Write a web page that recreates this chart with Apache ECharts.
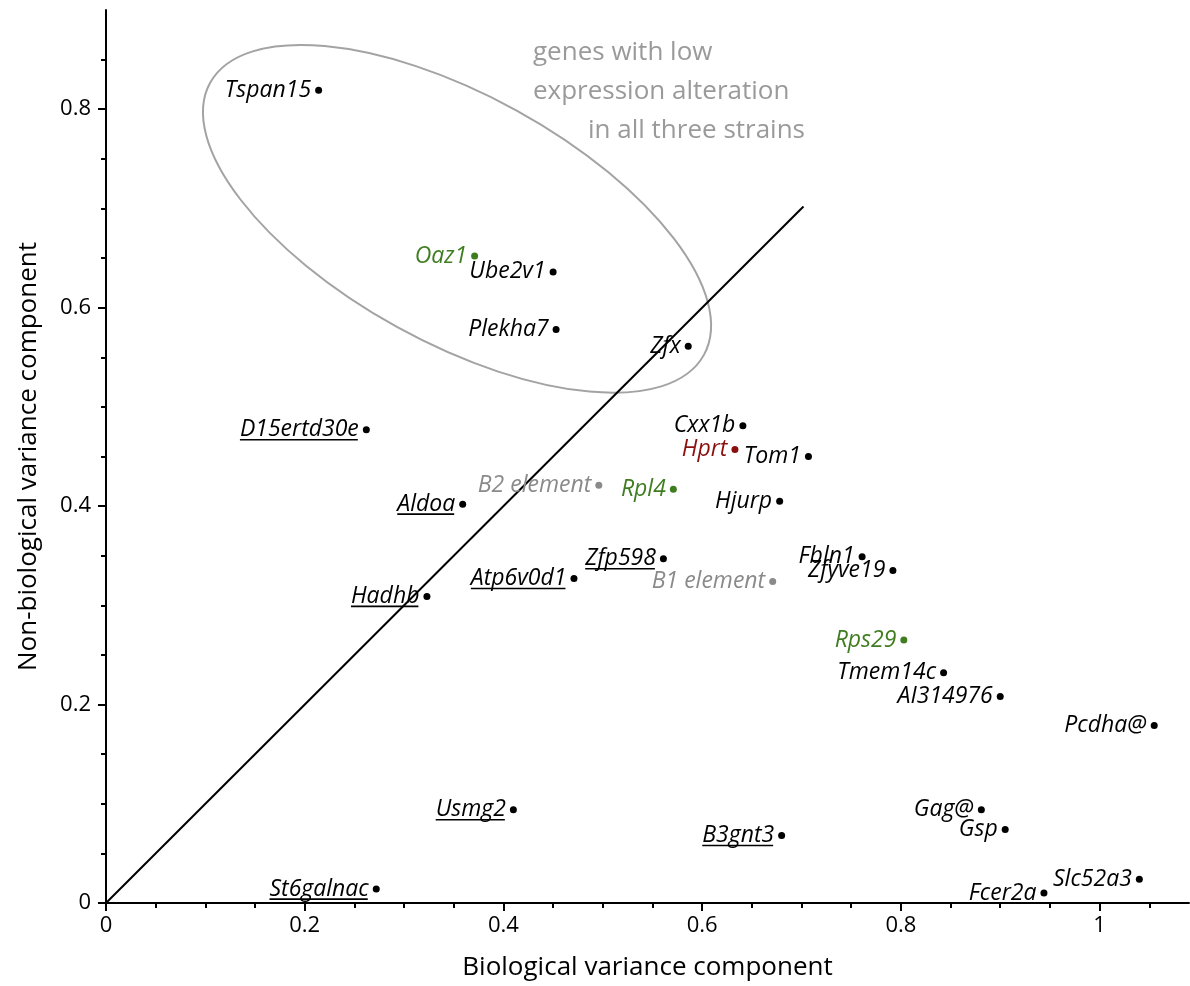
<!DOCTYPE html>
<html>
<head>
<meta charset="utf-8">
<script src="https://cdn.jsdelivr.net/npm/echarts@6/dist/echarts.min.js"></script>
<style>
  html, body { margin: 0; padding: 0; background: #fff; }
  #chart { width: 1190px; height: 986px; }
</style>
</head>
<body>
<div id="chart"></div>
<script>
// ---- data ----
const genes = ['Tspan15','Oaz1','Ube2v1','Plekha7','Zfx','D15ertd30e','Cxx1b','Hprt','Tom1','B2 element',
  'Rpl4','Aldoa','Hjurp','Zfp598','Fbln1','Atp6v0d1','B1 element','Zfyve19','Hadhb','Rps29',
  'Tmem14c','AI314976','Pcdha@','Usmg2','Gag@','Gsp','B3gnt3','Slc52a3','Fcer2a','St6galnac'];
const biological = [0.214,0.371,0.450,0.453,0.586,0.262,0.641,0.633,0.707,0.496,
  0.571,0.359,0.678,0.561,0.761,0.471,0.671,0.792,0.323,0.803,
  0.843,0.900,1.055,0.410,0.881,0.905,0.680,1.040,0.944,0.272];
const nonBiological = [0.819,0.652,0.636,0.578,0.561,0.477,0.481,0.457,0.450,0.421,
  0.417,0.402,0.405,0.347,0.349,0.327,0.324,0.335,0.309,0.265,
  0.232,0.208,0.179,0.094,0.094,0.074,0.068,0.024,0.010,0.014];
// k = black, g = green (reference genes), r = red (Hprt), s = grey (repeat elements)
const colorGroup = ['k','g','k','k','k','k','k','r','k','s',
  'g','k','k','k','k','k','s','k','k','g',
  'k','k','k','k','k','k','k','k','k','k'];
const underlined = [0,0,0,0,0,1,0,0,0,0,
  0,1,0,1,0,1,0,0,1,0,
  0,0,0,1,0,0,1,0,0,1];
const xTicks = [0, 0.2, 0.4, 0.6, 0.8, 1];
const yTicks = [0, 0.2, 0.4, 0.6, 0.8];
const diagonal = [[0, 0], [0.702, 0.702]];
const ellipseCenter = [0.3533, 0.6895];
const ellipseSemiAxes = [0.2837, 0.1246];
const ellipseAngleDeg = 28.85;
const annotationLines = ['genes with low', 'expression alteration', 'in all three strains'];
const xTitle = 'Biological variance component';
const yTitle = 'Non-biological variance component';

// ---- styling ----
const FONT = '"Open Sans", "DejaVu Sans", sans-serif';
const colors = { k: '#000000', g: '#3f7d20', r: '#8b0f0f', s: '#8a8a8a' };
const LABEL_SIZE = 23;
const DOT = 7;
const LABEL_DIST = 4;

const chart = echarts.init(document.getElementById('chart'), null, { renderer: 'canvas' });

function pointsOf(g) {
  const out = [];
  genes.forEach((n, i) => {
    if (colorGroup[i] === g) out.push({ name: n, value: [biological[i], nonBiological[i]] });
  });
  return out;
}

const measureCtx = document.createElement('canvas').getContext('2d');
function textWidth(t) {
  measureCtx.font = 'italic ' + LABEL_SIZE + 'px ' + FONT;
  return measureCtx.measureText(t).width;
}

const underlineData = [];
genes.forEach((n, i) => { if (underlined[i]) underlineData.push({ name: n, value: [biological[i], nonBiological[i]] }); });

const scatterSeries = ['k', 'g', 'r', 's'].map(g => ({
  type: 'scatter',
  data: pointsOf(g),
  symbol: 'circle',
  symbolSize: DOT,
  itemStyle: { color: colors[g], opacity: 1 },
  z: 5,
  silent: true,
  label: {
    show: true,
    position: 'left',
    distance: LABEL_DIST,
    formatter: p => p.name,
    color: colors[g],
    fontFamily: FONT,
    fontStyle: 'italic',
    fontSize: LABEL_SIZE
  }
}));

const option = {
  animation: false,
  backgroundColor: '#ffffff',
  grid: { left: 106, right: 1, top: 10, bottom: 78, containLabel: false },
  xAxis: {
    type: 'value', min: 0, max: 1.09, interval: 0.2,
    name: xTitle, nameLocation: 'middle', nameGap: 52,
    nameTextStyle: { fontFamily: FONT, fontSize: 26, color: '#000' },
    axisLine: { show: true, onZero: false, lineStyle: { color: '#000', width: 2 } },
    axisTick: { show: true, length: 8, customValues: xTicks, lineStyle: { color: '#000', width: 2 } },
    minorTick: { show: true, splitNumber: 4, length: 5, lineStyle: { color: '#000', width: 2 } },
    axisLabel: { customValues: xTicks, margin: 12, fontFamily: FONT, fontSize: 22, color: '#000' },
    splitLine: { show: false }, minorSplitLine: { show: false }
  },
  yAxis: {
    type: 'value', min: 0, max: 0.9, interval: 0.2,
    name: yTitle, nameLocation: 'middle', nameGap: 64, nameRotate: 90,
    nameTextStyle: { fontFamily: FONT, fontSize: 26, color: '#000' },
    axisLine: { show: true, onZero: false, lineStyle: { color: '#000', width: 2 } },
    axisTick: { show: true, length: 8, customValues: yTicks, lineStyle: { color: '#000', width: 2 } },
    minorTick: { show: true, splitNumber: 4, length: 5, lineStyle: { color: '#000', width: 2 } },
    axisLabel: { customValues: yTicks, margin: 15, fontFamily: FONT, fontSize: 22, color: '#000' },
    splitLine: { show: false }, minorSplitLine: { show: false }
  },
  series: [
    {
      type: 'line', data: diagonal, symbol: 'none', silent: true, z: 2,
      lineStyle: { color: '#000', width: 2 }
    },
    ...scatterSeries,
    {
      type: 'custom', silent: true, z: 6,
      data: underlineData,
      renderItem: function (params, api) {
        const p = api.coord([api.value(0), api.value(1)]);
        const name = underlineData[params.dataIndex].name;
        const right = p[0] - DOT / 2 - LABEL_DIST;
        const w = textWidth(name);
        return {
          type: 'line',
          shape: { x1: right - w, y1: p[1] + 10, x2: right - 1, y2: p[1] + 10 },
          style: { stroke: '#000', lineWidth: 1.6 }
        };
      }
    }
  ]
};

chart.setOption(option);

// ellipse + annotation, positioned through the chart's own coordinate system
const c = chart.convertToPixel({ gridIndex: 0 }, ellipseCenter);
const o = chart.convertToPixel({ gridIndex: 0 }, [0, 0]);
const u = chart.convertToPixel({ gridIndex: 0 }, [1, 1]);
const sx = u[0] - o[0];
const sy = o[1] - u[1];
const ANN_FONT = '26px ' + FONT;
chart.setOption({
  graphic: [
    {
      type: 'ellipse', silent: true, z: 1,
      x: c[0], y: c[1], rotation: -ellipseAngleDeg * Math.PI / 180,
      shape: { cx: 0, cy: 0, rx: ellipseSemiAxes[0] * sx, ry: ellipseSemiAxes[1] * sy },
      style: { fill: null, stroke: '#a3a3a3', lineWidth: 2 }
    },
    { type: 'text', silent: true, x: 533, y: 53, style: { text: annotationLines[0], font: ANN_FONT, fill: '#9a9a9a', verticalAlign: 'middle' } },
    { type: 'text', silent: true, x: 533, y: 92, style: { text: annotationLines[1], font: ANN_FONT, fill: '#9a9a9a', verticalAlign: 'middle' } },
    { type: 'text', silent: true, x: 588, y: 131, style: { text: annotationLines[2], font: ANN_FONT, fill: '#9a9a9a', verticalAlign: 'middle' } }
  ]
});
</script>
</body>
</html>
